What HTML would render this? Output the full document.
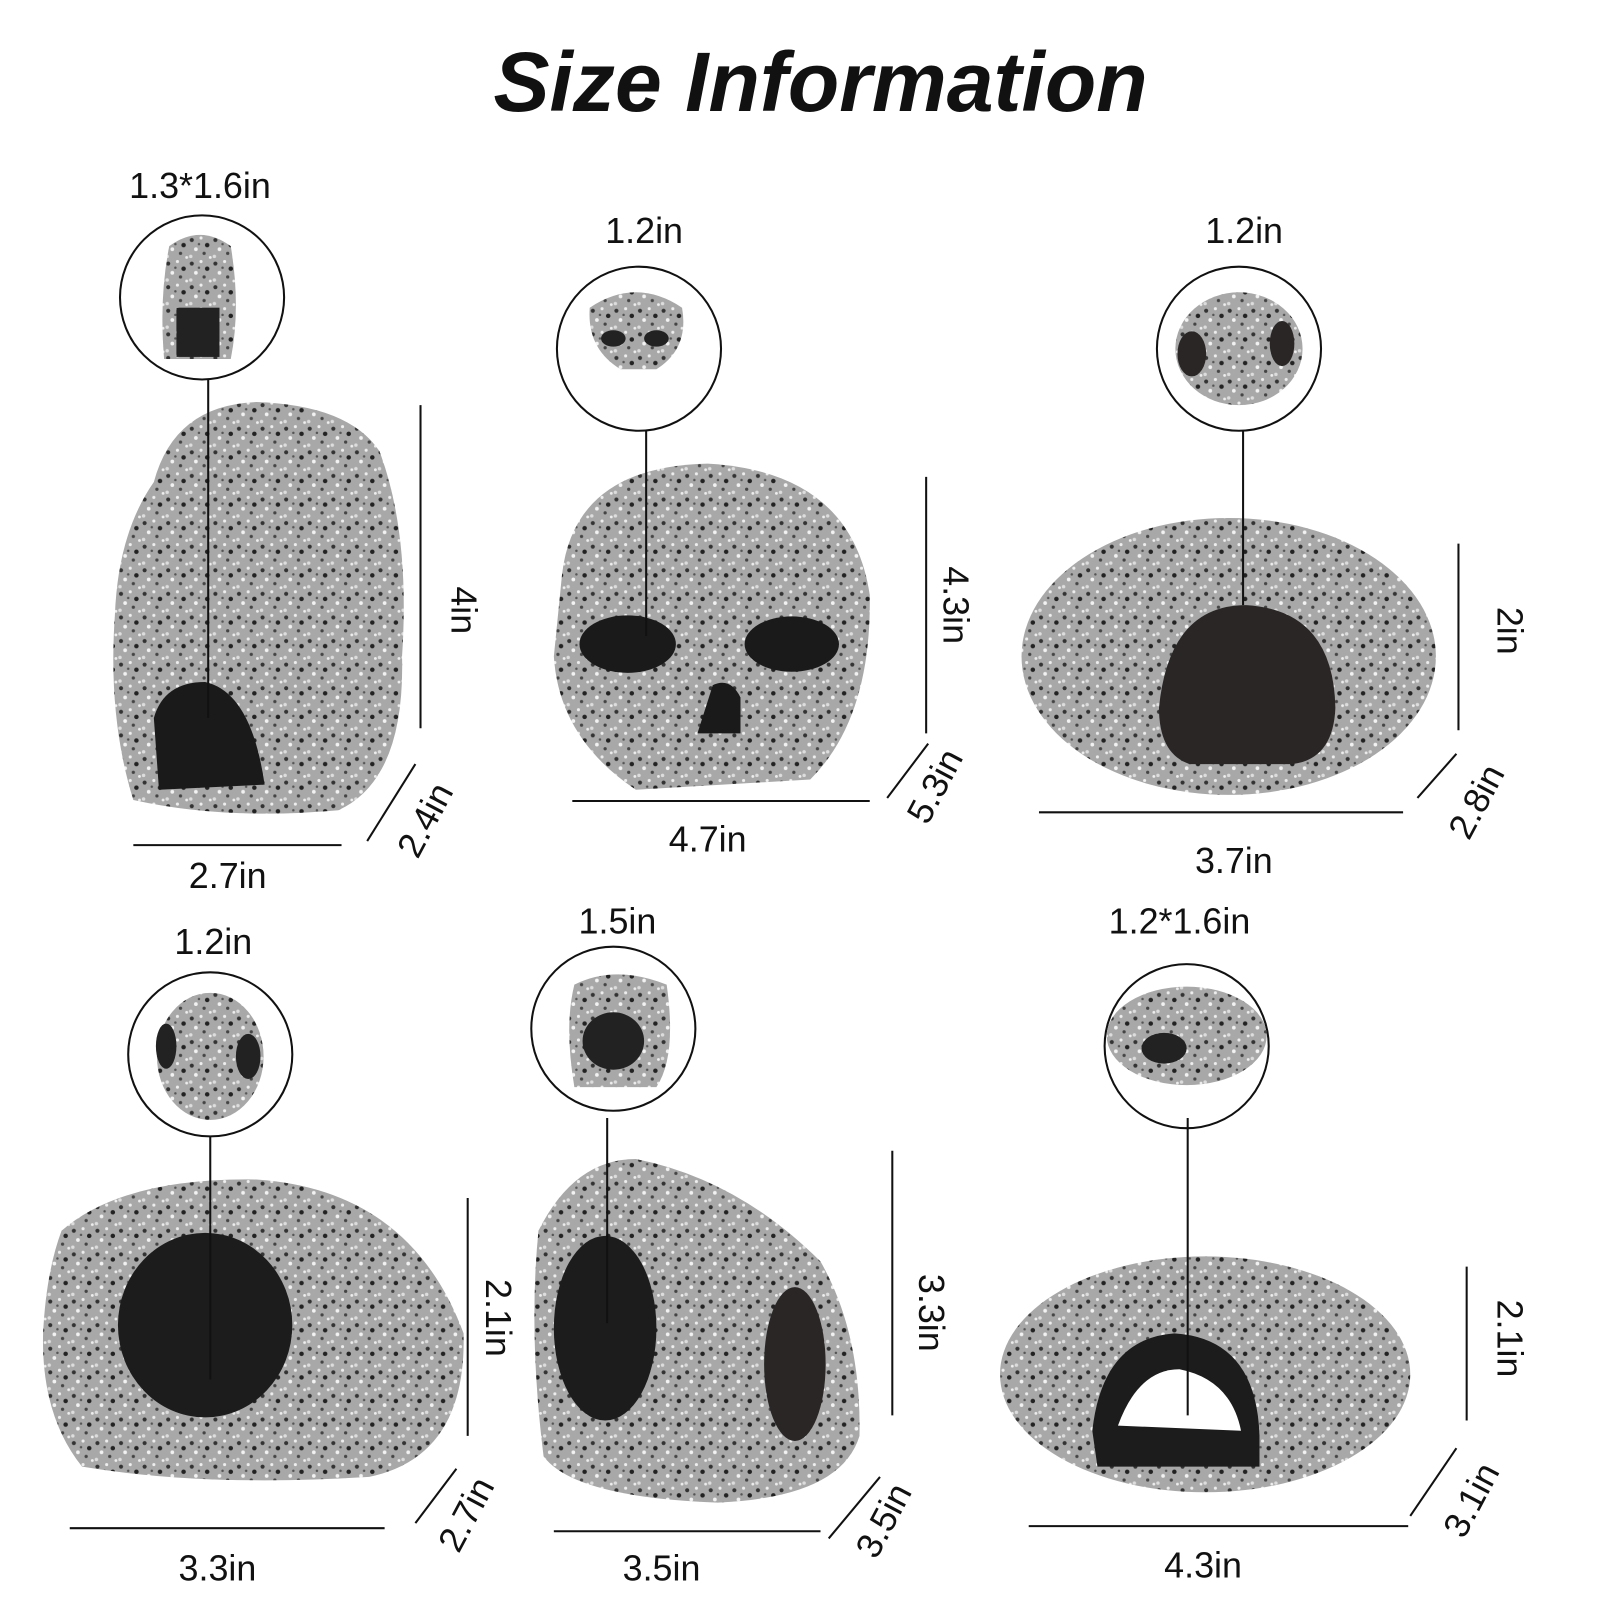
<!DOCTYPE html>
<html><head><meta charset="utf-8"><style>
html,body{margin:0;padding:0;background:#fff;width:1600px;height:1600px;overflow:hidden}
svg{display:block}
text{font-family:"Liberation Sans",sans-serif;fill:#111}
.l{font-size:35px;text-anchor:middle}
</style></head><body>
<svg width="1600" height="1600" viewBox="0 0 1560 1560" xmlns="http://www.w3.org/2000/svg">
<defs>
<pattern id="sp" width="23" height="23" patternUnits="userSpaceOnUse">
<rect width="23" height="23" fill="#a8a8a8"/>
<circle cx="3" cy="4" r="2" fill="#333"/><circle cx="12" cy="2" r="1.5" fill="#eee"/>
<circle cx="18" cy="9" r="2.2" fill="#222"/><circle cx="7" cy="13" r="1.8" fill="#f2f2f2"/>
<circle cx="15" cy="17" r="1.6" fill="#444"/><circle cx="2" cy="20" r="1.7" fill="#ddd"/>
<circle cx="21" cy="21" r="1.4" fill="#eee"/><circle cx="10" cy="8" r="1.2" fill="#555"/>
</pattern>
</defs>
<text x="800" y="108" text-anchor="middle" style="font-size:82px;font-weight:bold;font-style:italic">Size Information</text>

<g stroke="#111" stroke-width="2" fill="none">
<!-- item lines -->
<line x1="410" y1="395" x2="410" y2="710"/><line x1="358" y1="820" x2="405" y2="745"/><line x1="130" y1="824" x2="333" y2="824"/>
<line x1="903" y1="465" x2="903" y2="715"/><line x1="865" y1="778" x2="905" y2="725"/><line x1="558" y1="781" x2="848" y2="781"/>
<line x1="1422" y1="530" x2="1422" y2="712"/><line x1="1382" y1="778" x2="1420" y2="735"/><line x1="1013" y1="792" x2="1368" y2="792"/>
<line x1="456" y1="1168" x2="456" y2="1400"/><line x1="405" y1="1485" x2="445" y2="1432"/><line x1="68" y1="1490" x2="375" y2="1490"/>
<line x1="870" y1="1122" x2="870" y2="1380"/><line x1="808" y1="1500" x2="858" y2="1440"/><line x1="540" y1="1493" x2="800" y2="1493"/>
<line x1="1430" y1="1235" x2="1430" y2="1385"/><line x1="1375" y1="1478" x2="1420" y2="1412"/><line x1="1003" y1="1488" x2="1373" y2="1488"/>
</g>

<!-- rocks -->
<path d="M150 470 Q170 395 250 392 Q340 395 370 440 Q400 520 392 640 Q395 760 330 790 Q220 800 130 780 Q105 700 112 600 Q115 520 150 470Z" fill="url(#sp)"/>
<path d="M150 700 Q160 665 200 665 Q245 675 258 765 L155 770Z" fill="#1a1a1a"/>
<path d="M548 560 Q560 455 690 452 Q830 460 848 580 Q850 700 790 760 L620 770 Q545 720 540 640Z" fill="url(#sp)"/>
<ellipse cx="612" cy="628" rx="47" ry="28" fill="#1a1a1a"/><ellipse cx="772" cy="628" rx="46" ry="27" fill="#1a1a1a"/>
<path d="M695 668 Q712 660 722 680 L722 715 L680 715Z" fill="#1a1a1a"/>
<ellipse cx="1198" cy="640" rx="202" ry="135" fill="url(#sp)"/>
<path d="M1130 690 Q1140 590 1215 590 Q1300 595 1302 690 Q1300 740 1260 745 L1160 745 Q1130 735 1130 690Z" fill="#2a2626"/>
<path d="M60 1200 Q120 1148 250 1150 Q400 1160 452 1300 Q455 1420 360 1440 Q200 1450 80 1430 Q40 1380 42 1300 Q45 1240 60 1200Z" fill="url(#sp)"/>
<ellipse cx="200" cy="1292" rx="85" ry="90" fill="#1c1c1c"/>
<path d="M525 1200 Q560 1130 620 1130 Q720 1150 800 1230 Q840 1300 838 1400 Q820 1460 700 1465 Q560 1460 530 1420 Q515 1300 525 1200Z" fill="url(#sp)"/>
<ellipse cx="590" cy="1295" rx="50" ry="90" fill="#1c1c1c"/><ellipse cx="775" cy="1330" rx="30" ry="75" fill="#2a2626"/>
<ellipse cx="1175" cy="1340" rx="200" ry="115" fill="url(#sp)"/>
<path d="M1065 1395 Q1075 1305 1145 1300 Q1225 1305 1228 1400 L1228 1430 L1070 1430Z" fill="#1c1c1c"/>
<path d="M1090 1390 Q1110 1335 1150 1335 Q1200 1345 1210 1395Z" fill="#fff"/>

<!-- thumbnails -->
<g stroke="#111" stroke-width="2" fill="#fff">
<circle cx="197" cy="290" r="80"/><circle cx="623" cy="340" r="80"/><circle cx="1208" cy="340" r="80"/>
<circle cx="205" cy="1028" r="80"/><circle cx="598" cy="1003" r="80"/><circle cx="1157" cy="1020" r="80"/>
</g>
<path d="M165 240 Q195 218 225 240 Q235 300 225 350 L160 350 Q155 290 165 240Z" fill="url(#sp)"/><rect x="172" y="300" width="42" height="48" fill="#222"/>
<path d="M575 300 Q620 270 665 300 Q672 340 640 360 L605 360 Q572 340 575 300Z" fill="url(#sp)"/><ellipse cx="598" cy="330" rx="12" ry="8" fill="#222"/><ellipse cx="640" cy="330" rx="12" ry="8" fill="#222"/>
<ellipse cx="1208" cy="340" rx="62" ry="55" fill="url(#sp)"/><ellipse cx="1162" cy="345" rx="14" ry="22" fill="#2a2626"/><ellipse cx="1250" cy="335" rx="12" ry="22" fill="#2a2626"/>
<ellipse cx="205" cy="1030" rx="52" ry="62" fill="url(#sp)"/><ellipse cx="162" cy="1020" rx="10" ry="22" fill="#222"/><ellipse cx="242" cy="1030" rx="12" ry="22" fill="#222"/>
<path d="M560 960 Q600 940 650 960 Q660 1030 640 1060 L560 1060 Q550 1000 560 960Z" fill="url(#sp)"/><ellipse cx="598" cy="1015" rx="30" ry="28" fill="#222"/>
<ellipse cx="1157" cy="1010" rx="78" ry="48" fill="url(#sp)"/><ellipse cx="1135" cy="1022" rx="22" ry="15" fill="#222"/>

<g stroke="#111" stroke-width="2">
<line x1="203" y1="370" x2="203" y2="700"/><line x1="630" y1="420" x2="630" y2="620"/><line x1="1212" y1="420" x2="1212" y2="590"/>
<line x1="205" y1="1108" x2="205" y2="1345"/><line x1="592" y1="1090" x2="592" y2="1290"/><line x1="1158" y1="1090" x2="1158" y2="1380"/>
</g>

<!-- labels -->
<text class="l" x="195" y="193">1.3*1.6in</text>
<text class="l" x="628" y="237">1.2in</text>
<text class="l" x="1213" y="237">1.2in</text>
<text class="l" x="208" y="930">1.2in</text>
<text class="l" x="602" y="910">1.5in</text>
<text class="l" x="1150" y="910">1.2*1.6in</text>
<text class="l" x="222" y="866">2.7in</text>
<text class="l" x="690" y="830">4.7in</text>
<text class="l" x="1203" y="851">3.7in</text>
<text class="l" x="212" y="1541">3.3in</text>
<text class="l" x="645" y="1541">3.5in</text>
<text class="l" x="1173" y="1538">4.3in</text>
<text class="l" transform="translate(440,595) rotate(90)">4in</text>
<text class="l" transform="translate(920,590) rotate(90)">4.3in</text>
<text class="l" transform="translate(1460,615) rotate(90)">2in</text>
<text class="l" transform="translate(474,1285) rotate(90)">2.1in</text>
<text class="l" transform="translate(896,1280) rotate(90)">3.3in</text>
<text class="l" transform="translate(1460,1305) rotate(90)">2.1in</text>
<text class="l" transform="translate(425,805) rotate(-62)">2.4in</text>
<text class="l" transform="translate(922,772) rotate(-62)">5.3in</text>
<text class="l" transform="translate(1450,787) rotate(-62)">2.8in</text>
<text class="l" transform="translate(465,1482) rotate(-62)">2.7in</text>
<text class="l" transform="translate(872,1488) rotate(-62)">3.5in</text>
<text class="l" transform="translate(1445,1468) rotate(-62)">3.1in</text>
</svg>
</body></html>
